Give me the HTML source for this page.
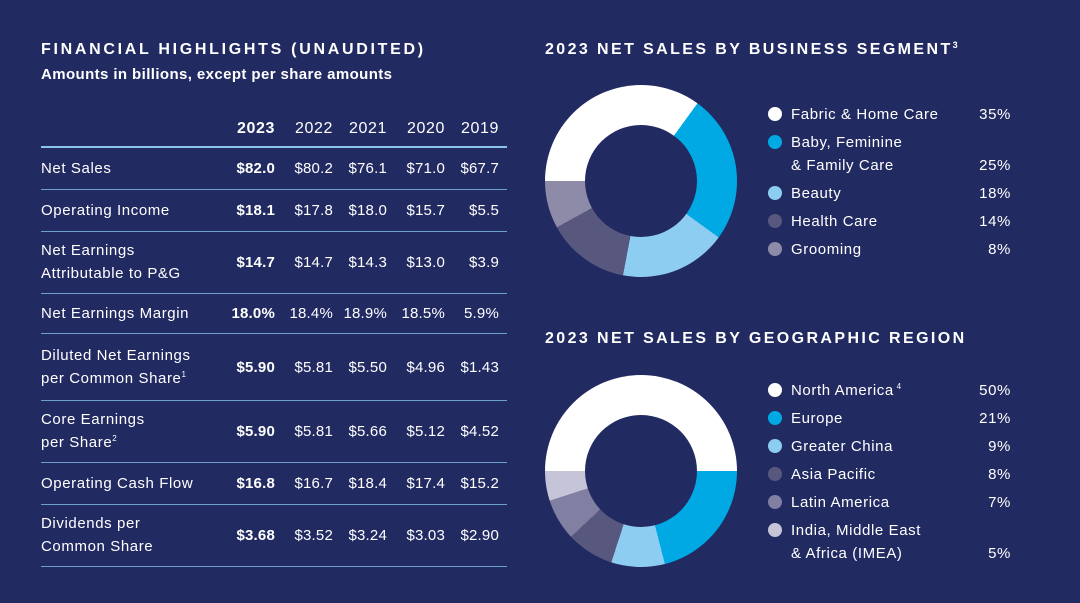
<!DOCTYPE html>
<html><head><meta charset="utf-8"><style>
*{margin:0;padding:0;box-sizing:border-box}
body{width:1080px;height:603px;background:#222a62;font-family:"Liberation Sans",sans-serif;color:#fff;position:relative;overflow:hidden}
sup{vertical-align:baseline;position:relative;top:-6px;font-size:8px;line-height:0}
.a{position:absolute;white-space:nowrap}
.t{font-weight:bold;font-size:16px;letter-spacing:2.4px}
.s{font-weight:bold;font-size:15px;letter-spacing:0.4px}
.c{font-size:15px;line-height:23px;letter-spacing:0.6px}
.r{text-align:right;width:70px}
.b{font-weight:bold}
.ln{position:absolute;left:41px;width:466px;height:1px;background:#6f9fcf}
.dot{position:absolute;width:14px;height:14px;border-radius:50%}
.donut{position:absolute;width:192px;height:192px;border-radius:50%}
.hole{position:absolute;left:40px;top:40px;width:112px;height:112px;border-radius:50%;background:#222a62}
</style></head><body>
<div class="a t" style="left:41px;top:41px;letter-spacing:2.7px">FINANCIAL HIGHLIGHTS (UNAUDITED)</div>
<div class="a s" style="left:41px;top:66px">Amounts in billions, except per share amounts</div>

<div class="ln" style="top:146px;height:2px;background:#8cc4e8"></div>
<div class="ln" style="top:189px"></div>
<div class="ln" style="top:231px"></div>
<div class="ln" style="top:293px"></div>
<div class="ln" style="top:333px"></div>
<div class="ln" style="top:400px"></div>
<div class="ln" style="top:462px"></div>
<div class="ln" style="top:504px"></div>
<div class="ln" style="top:566px"></div>

<div id="tbl"></div>

<div class="a t" style="left:545px;top:41px">2023 NET SALES BY BUSINESS SEGMENT<sup style="font-size:9px">3</sup></div>
<div class="donut" style="left:545px;top:85px;background:conic-gradient(from 270deg,#fff 0 35%,#00a8e4 35% 60%,#8ccdf1 60% 78%,#58587f 78% 92%,#8e8ba9 92% 100%)"><div class="hole"></div></div>

<div class="a t" style="left:545px;top:330px">2023 NET SALES BY GEOGRAPHIC REGION</div>
<div class="donut" style="left:545px;top:375px;background:conic-gradient(from 270deg,#fff 0 50%,#00a8e4 50% 71%,#8ccdf1 71% 80%,#58587f 80% 88%,#817fa2 88% 95%,#c6c4d9 95% 100%)"><div class="hole"></div></div>

<div id="leg"></div>
<script>
var rows=[["Net Sales",168,["$82.0","$80.2","$76.1","$71.0","$67.7"]],
["Operating Income",210,["$18.1","$17.8","$18.0","$15.7","$5.5"]],
["Net Earnings<br>Attributable to P&amp;G",262,["$14.7","$14.7","$14.3","$13.0","$3.9"]],
["Net Earnings Margin",313,["18.0%","18.4%","18.9%","18.5%","5.9%"]],
["Diluted Net Earnings<br>per Common Share<sup>1</sup>",367,["$5.90","$5.81","$5.50","$4.96","$1.43"]],
["Core Earnings<br>per Share<sup>2</sup>",431,["$5.90","$5.81","$5.66","$5.12","$4.52"]],
["Operating Cash Flow",483,["$16.8","$16.7","$18.4","$17.4","$15.2"]],
["Dividends per<br>Common Share",535,["$3.68","$3.52","$3.24","$3.03","$2.90"]]];
var rx=[275,333,387,445,499],h="";
var yrs=["2023","2022","2021","2020","2019"];
yrs.forEach(function(y,i){h+='<div class="a c r'+(i==0?' b':'')+'" style="font-size:16px;left:'+(rx[i]-70)+'px;top:117px">'+y+'</div>'});
rows.forEach(function(r){var two=r[0].indexOf("<br>")>0;
h+='<div class="a c" style="left:41px;top:'+(r[1]-(two?23:11.5))+'px">'+r[0]+'</div>';
r[2].forEach(function(v,i){h+='<div class="a c r'+(i==0?' b':'')+'" style="letter-spacing:0.2px;left:'+(rx[i]-70)+'px;top:'+(r[1]-11.5)+'px">'+v+'</div>'})});
document.getElementById("tbl").innerHTML=h;
var L=[["#fff","Fabric &amp; Home Care","35%",114],["#00a8e4","Baby, Feminine<br>&amp; Family Care","25%",142],["#8ccdf1","Beauty","18%",193],["#58587f","Health Care","14%",221],["#8e8ba9","Grooming","8%",249],
["#fff","North America<sup> 4</sup>","50%",390],["#00a8e4","Europe","21%",418],["#8ccdf1","Greater China","9%",446],["#58587f","Asia Pacific","8%",474],["#817fa2","Latin America","7%",502],["#c6c4d9","India, Middle East<br>&amp; Africa (IMEA)","5%",530]];
h="";L.forEach(function(l){var two=l[1].indexOf("<br>")>0;
h+='<div class="dot" style="background:'+l[0]+';left:768px;top:'+(l[3]-7)+'px"></div>';
h+='<div class="a c" style="left:791px;top:'+(l[3]-11.5)+'px">'+l[1]+'</div>';
h+='<div class="a c r" style="left:941px;top:'+(l[3]-11.5+(two?23:0))+'px">'+l[2]+'</div>'});
document.getElementById("leg").innerHTML=h;
</script>
</body></html>
